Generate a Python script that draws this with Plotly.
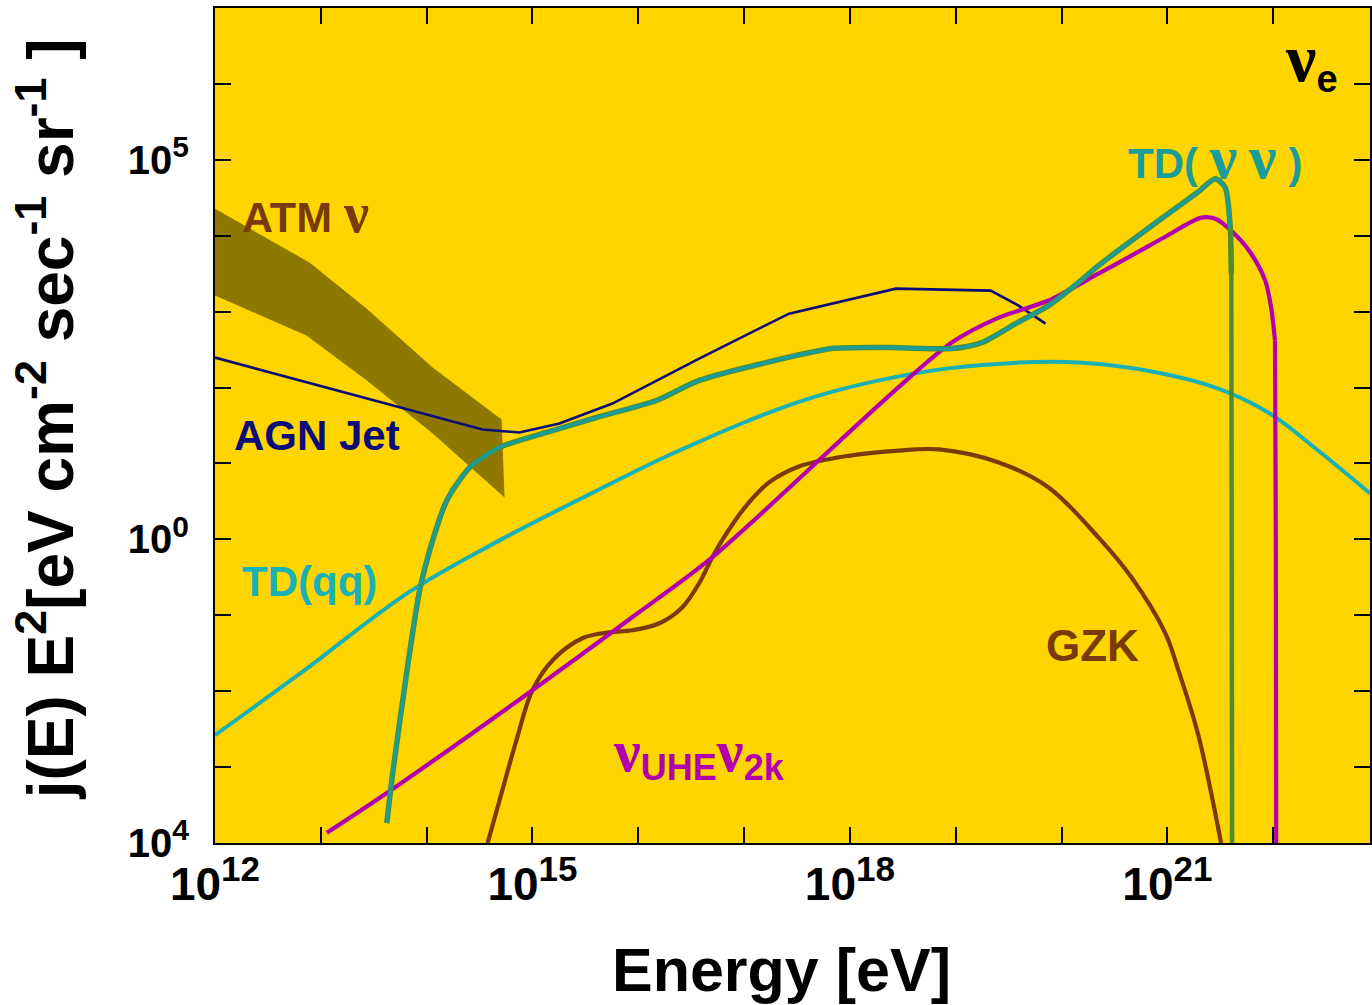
import plotly.graph_objects as go

# ---------------- data (energy in eV, flux j(E)E^2) ----------------
atm_upper_E = [1.00e12, 7.87e12, 2.72e13, 1.14e14, 5.11e14]
atm_upper_F = [2.26e4, 4.42e3, 1.09e3, 1.83e2, 3.79e1]
atm_lower_E = [1.00e12, 7.38e12, 2.72e13, 1.14e14, 5.45e14]
atm_lower_F = [1.63e3, 4.83e2, 1.24e2, 2.48e1, 3.57e0]

agn_E = [1.00e12, 3.37e14, 7.53e14, 1.80e15, 5.69e15, 3.76e16, 2.66e17,
         2.72e18, 2.14e19, 3.93e19, 7.06e19]
agn_F = [2.48e2, 2.80e1, 2.56e1, 3.36e1, 6.15e1, 2.41e2, 9.42e2,
         2.01e3, 1.89e3, 1.20e3, 6.95e2]

tdqq_E = [1.00e12, 6.34e12, 6.92e13, 4.89e14, 3.45e15, 2.44e16, 4.10e17,
          5.94e18, 3.93e19, 1.45e20, 8.22e20, 3.03e21, 8.97e21, 2.66e22, 8.22e22]
tdqq_F = [2.64e-3, 1.70e-2, 2.05e-1, 9.70e-1, 3.91e0, 1.48e1, 7.16e1,
          1.67e2, 2.13e2, 2.13e2, 1.57e2, 9.70e1, 4.69e1, 1.48e1, 4.03e0]

tdvv_E = [4.20e13, 4.78e13, 6.47e13, 8.59e13, 1.14e14, 1.55e14, 2.55e14,
          4.89e14, 1.36e15, 4.02e15, 1.48e16, 3.76e16, 1.61e17, 6.76e17,
          2.49e18, 9.16e18, 1.76e19, 3.68e19, 7.53e19, 1.36e20, 2.23e20,
          4.57e20, 9.57e20, 1.96e21, 2.84e21, 3.52e21, 3.93e21, 4.02e21]
tdvv_F = [1.83e-4, 8.34e-4, 1.73e-2, 2.13e-1, 9.70e-1, 3.26e0, 8.85e0,
          1.63e1, 2.56e1, 4.03e1, 6.75e1, 1.24e2, 2.13e2, 3.26e2,
          3.36e2, 3.26e2, 3.91e2, 6.95e2, 1.20e3, 2.26e3, 4.03e3,
          8.59e3, 1.83e4, 3.79e4, 5.62e4, 4.29e4, 1.27e4, 3.16e3]
tdvv_drop_E = [3.93e21, 4.02e21, 4.10e21]
tdvv_drop_F = [1.27e4, 3.16e3, 1.00e-5]

uhe_E = [1.14e13, 4.20e13, 1.00e15, 8.77e15, 4.99e16, 2.19e18, 9.16e18,
         2.55e19, 7.53e19, 2.23e20, 4.57e20, 9.57e20, 2.09e21, 2.84e21,
         4.02e21, 6.20e21, 8.41e21, 9.57e21, 1.04e22]
uhe_F = [1.36e-4, 4.55e-4, 1.03e-2, 9.42e-2, 5.79e-1, 7.16e1, 3.91e2,
         8.34e2, 1.40e3, 3.16e3, 5.46e3, 9.70e3, 1.73e4, 1.67e4,
         1.16e4, 5.79e3, 2.56e3, 1.13e3, 4.15e2]
uhe_drop_E = [1.04e22, 1.06e22, 1.07e22]
uhe_drop_F = [4.15e2, 1.00e0, 1.00e-5]

gzk_E = [3.20e14, 4.89e14, 7.06e14, 1.00e15, 1.55e15, 2.96e15, 5.32e15,
         8.77e15, 1.58e16, 2.60e16, 3.76e16, 4.99e16, 6.19e16, 1.00e17,
         1.72e17, 3.30e17, 1.00e18, 2.90e18, 6.92e18, 2.55e19, 7.53e19,
         2.23e20, 4.57e20, 9.57e20, 1.27e21, 1.96e21, 3.60e21]
gzk_F = [4.40e-5, 3.68e-4, 2.26e-3, 1.03e-2, 2.56e-2, 4.98e-2, 5.97e-2,
         6.35e-2, 7.85e-2, 1.27e-1, 2.64e-1, 5.79e-1, 9.70e-1, 2.56e0,
         5.62e0, 9.14e0, 1.27e1, 1.48e1, 1.53e1, 1.03e1, 4.83e0,
         1.06e0, 3.16e-1, 5.79e-2, 1.89e-2, 2.64e-3, 4.40e-5]

XSUP = '<sup><span style="font-size:35px">%s</span></sup>'
YSUP = '<sup><span style="font-size:30px">%s</span></sup>'
x_tick_vals = [1e12, 1e13, 1e14, 1e15, 1e16, 1e17, 1e18, 1e19, 1e20, 1e21, 1e22]
x_tick_text = ["10" + XSUP % "12", "", "", "10" + XSUP % "15", "", "",
               "10" + XSUP % "18", "", "", "10" + XSUP % "21", ""]
y_tick_vals = [1e-4, 1e-3, 1e-2, 1e-1, 1e0, 1e1, 1e2, 1e3, 1e4, 1e5, 1e6, 1e7]
y_tick_text = ["10" + YSUP % "4", "", "", "", "10" + YSUP % "0", "", "", "", "",
               "10" + YSUP % "5", "", ""]

# ---------------- colours ----------------
BG = "#FFD500"
ATM_C = "#8E7800"
AGN_C = "#0C0C78"
QQ_C = "#19B1B6"
VV_C = "#1C9C98"
VV_EDGE = "#4F8C2A"
UHE_C = "#B200AE"
GZK_C = "#7A3A0A"
FONT = "Liberation Sans"

fig = go.Figure()

# ATM band
fig.add_trace(go.Scatter(
    x=atm_upper_E + atm_lower_E[::-1],
    y=atm_upper_F + atm_lower_F[::-1],
    fill="toself", fillcolor=ATM_C, mode="lines",
    line=dict(color=ATM_C, width=0), hoverinfo="skip", showlegend=False))

# AGN jet
fig.add_trace(go.Scatter(x=agn_E, y=agn_F, mode="lines",
                         line=dict(color=AGN_C, width=2.6), showlegend=False))
# TD(qq)
fig.add_trace(go.Scatter(x=tdqq_E, y=tdqq_F, mode="lines",
                         line=dict(color=QQ_C, width=4, shape="spline", smoothing=1.0),
                         showlegend=False))
# GZK
fig.add_trace(go.Scatter(x=gzk_E, y=gzk_F, mode="lines",
                         line=dict(color=GZK_C, width=4.2, shape="spline", smoothing=1.0),
                         showlegend=False))
# nu_UHE nu_2k
fig.add_trace(go.Scatter(x=uhe_E, y=uhe_F, mode="lines",
                         line=dict(color=UHE_C, width=4.2, shape="spline", smoothing=0.8),
                         showlegend=False))
fig.add_trace(go.Scatter(x=uhe_drop_E, y=uhe_drop_F, mode="lines",
                         line=dict(color=UHE_C, width=4.2), showlegend=False))
# TD(nu nu): green edge + teal core, green vertical drop
fig.add_trace(go.Scatter(x=tdvv_E, y=tdvv_F, mode="lines",
                         line=dict(color=VV_EDGE, width=5.5, shape="spline", smoothing=0.7),
                         showlegend=False))
fig.add_trace(go.Scatter(x=tdvv_E, y=tdvv_F, mode="lines",
                         line=dict(color=VV_C, width=3.6, shape="spline", smoothing=0.7),
                         showlegend=False))
fig.add_trace(go.Scatter(x=tdvv_drop_E, y=tdvv_drop_F, mode="lines",
                         line=dict(color=VV_EDGE, width=4.5), showlegend=False))


def nu(size):
    return '<span style="font-family:Liberation Serif;font-size:%dpx">ν</span>' % size


def label(text, xp, yp, color, size=42):
    fig.add_annotation(text=text, x=xp, y=yp, xref="paper", yref="paper",
                       xanchor="left", yanchor="middle", showarrow=False,
                       font=dict(family=FONT, size=size, color=color, weight="bold"))


label("ATM " + nu(56), 0.0216, 0.7545, GZK_C, 43)
label("AGN Jet", 0.0147, 0.4886, AGN_C, 42)
label("TD(qq)", 0.0216, 0.3126, QQ_C, 42)
label("GZK", 0.7174, 0.2371, GZK_C, 44)
label(nu(60) + '<sub><span style="font-size:36px">UHE</span></sub>' + nu(60) +
      '<sub><span style="font-size:36px">2k</span></sub>', 0.3431, 0.108, UHE_C, 44)
label("TD( " + nu(62) + " " + nu(62) + " )", 0.7891, 0.8216, VV_C, 42)
label(nu(68) + '<sub><span style="font-size:38px">e</span></sub>', 0.9248, 0.938, "black", 50)

# axis titles as annotations
fig.add_annotation(text="Energy [eV]", x=0.4909, y=-0.1521, xref="paper", yref="paper",
                   showarrow=False, xanchor="center", yanchor="middle",
                   font=dict(family=FONT, size=61, color="black", weight="bold"))
fig.add_annotation(text="j(E) E<sup>2</sup>[eV cm<sup>-2</sup> sec<sup>-1</sup> sr<sup>-1</sup> ]",
                   x=-0.146, y=0.5078, xref="paper", yref="paper", textangle=-90,
                   showarrow=False, xanchor="center", yanchor="middle",
                   font=dict(family=FONT, size=64, color="black", weight="bold"))

fig.update_xaxes(type="log", range=[12, 22.915], tickvals=x_tick_vals, ticktext=x_tick_text,
                 ticks="inside", ticklen=16, tickwidth=2, tickcolor="black",
                 showline=True, linecolor="black", linewidth=2, mirror="ticks",
                 showgrid=False, zeroline=False,
                 tickfont=dict(family=FONT, size=46, color="black", weight="bold"))
fig.update_yaxes(type="log", range=[-4, 7], tickvals=y_tick_vals, ticktext=y_tick_text,
                 ticks="inside", ticklen=16, tickwidth=2, tickcolor="black",
                 showline=True, linecolor="black", linewidth=2, mirror="ticks",
                 showgrid=False, zeroline=False, ticklabelstandoff=16,
                 tickfont=dict(family=FONT, size=40, color="black", weight="bold"))

fig.update_layout(width=1372, height=1005, paper_bgcolor="white", plot_bgcolor=BG,
                  margin=dict(l=215, r=0, t=8, b=162), showlegend=False)

fig.write_html("out.html")
